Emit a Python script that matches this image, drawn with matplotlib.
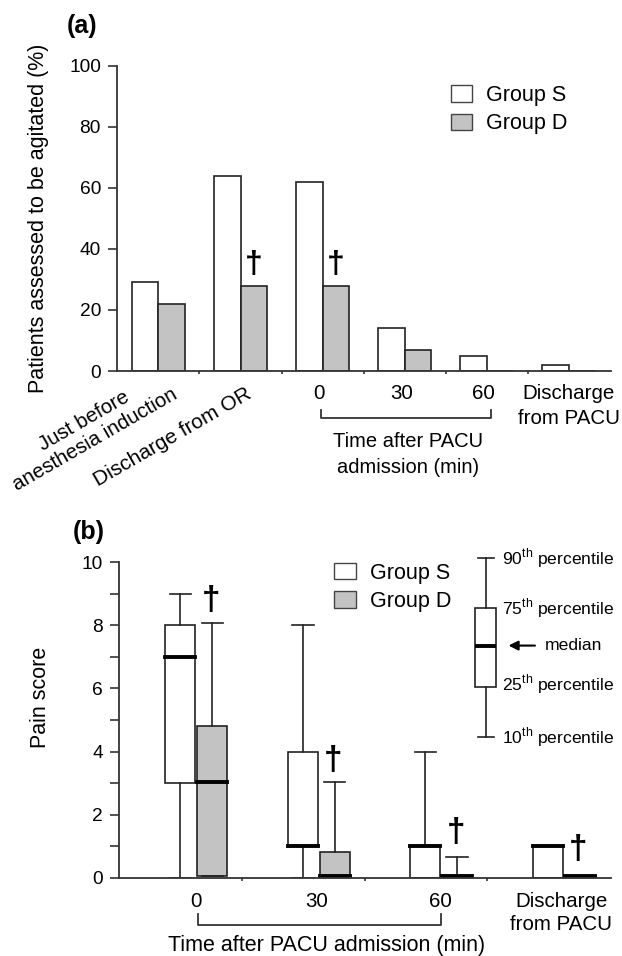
import matplotlib
matplotlib.use('Agg')
import matplotlib.pyplot as plt
from matplotlib.patches import Patch

plt.rcParams['font.family'] = ['Liberation Sans', 'DejaVu Sans']
plt.rcParams['mathtext.fontset'] = 'custom'
plt.rcParams['mathtext.rm'] = 'Liberation Sans'

# ---- panel (a): patients assessed to be agitated (%)
stages_a = ['Just before\nanesthesia induction', 'Discharge from OR',
            '0', '30', '60', 'Discharge\nfrom PACU']
agit_s = [29, 64, 62, 14, 5, 2]
agit_d = [22, 28, 28, 7, 0, 0]
dagger_a = [1, 2]

# ---- panel (b): pain score, (10th, 25th, median, 75th, 90th)
times_b = ['0', '30', '60', 'Discharge\nfrom PACU']
pain_s = [[0, 3, 7, 8, 9],
          [0, 1, 1, 4, 8],
          [0, 0, 1, 1, 4],
          [0, 0, 1, 1, 1]]
pain_d = [[0.05, 0.05, 3.05, 4.8, 8.07],
          [0.05, 0.05, 0.05, 0.8, 3.05],
          [0.05, 0.05, 0.05, 0.05, 0.65],
          [0.05, 0.05, 0.05, 0.05, 0.05]]
dagger_b_y = [8.8, 3.73, 1.43, 0.91]
key_vals = [4.47, 6.06, 7.36, 8.54, 10.13]
key_text = ['10$^{\\rm th}$ percentile', '25$^{\\rm th}$ percentile', 'median',
            '75$^{\\rm th}$ percentile', '90$^{\\rm th}$ percentile']

GRAY = '#c2c3c2'
EDGE = '#222222'
AX = '#333333'

fig = plt.figure(figsize=(6.22, 9.56), dpi=100)
ax1 = fig.add_axes([0.188, 0.6119, 0.795, 0.3194])
ax2 = fig.add_axes([0.1913, 0.0819, 0.7917, 0.3299])


def style_axes(ax):
    for s in ['top', 'right']:
        ax.spines[s].set_visible(False)
    for s in ['left', 'bottom']:
        ax.spines[s].set_linewidth(1.3)
        ax.spines[s].set_color(AX)
    ax.tick_params(axis='y', length=6.5, width=1.2, color=AX, pad=5, labelsize=13.8)
    ax.tick_params(axis='x', which='major', length=0, labelsize=14.8)
    ax.tick_params(axis='x', which='minor', length=2.5, width=1.2, color=AX)


# ================= (a)
x = list(range(len(stages_a)))
ax1.bar([i - 0.16 for i in x], agit_s, width=0.32, color='white', edgecolor=EDGE, linewidth=1.2)
ax1.bar([i + 0.16 for i in x], agit_d, width=0.32, color=GRAY, edgecolor=EDGE, linewidth=1.2)
ax1.set_xlim(-0.506, 5.52)
ax1.set_ylim(0, 100)
ax1.set_yticks(range(0, 101, 20))
style_axes(ax1)
ax1.set_xticks([1.96, 2.96, 3.96, 5.0])
ax1.set_xticklabels(stages_a[2:], linespacing=1.45)
ax1.tick_params(axis='x', which='major', pad=9)
ax1.set_xticks([0.5, 1.5, 2.5, 3.5, 4.5], minor=True)
trans1 = ax1.get_xaxis_transform()
ax1.text(0.23, -0.08, stages_a[0], transform=trans1, rotation=30, rotation_mode='anchor',
         ha='right', va='baseline', multialignment='center', fontsize=14.8, linespacing=1.2)
ax1.text(1.15, -0.085, stages_a[1], transform=trans1, rotation=30, rotation_mode='anchor',
         ha='right', va='baseline', fontsize=15)
for i in dagger_a:
    ax1.text(i + 0.16, 34.7, '\u2020', ha='center', va='center', fontsize=23, fontweight='bold')
ax1.plot([1.98, 1.98, 4.05, 4.05], [-0.128, -0.154, -0.154, -0.128], transform=trans1,
         color=AX, lw=1.3, clip_on=False)
ax1.text(3.04, -0.2, 'Time after PACU\nadmission (min)', transform=trans1, ha='center',
         va='top', fontsize=14.5, linespacing=1.45)
ax1.set_ylabel('Patients assessed to be agitated (%)', fontsize=15.5)
ax1.yaxis.set_label_coords(-0.138, 0.5)

handles = [Patch(facecolor='white', edgecolor='#444444', linewidth=1, label='Group S'),
           Patch(facecolor=GRAY, edgecolor='#444444', linewidth=1, label='Group D')]
leg_kw = dict(frameon=False, fontsize=15.5, handlelength=1.02, handleheight=0.8,
              handletextpad=0.64, labelspacing=0.35, borderpad=0, borderaxespad=0,
              loc='upper left')
ax1.legend(handles=handles, bbox_to_anchor=(0.6746, 0.937), **leg_kw)

# ================= (b)
def stats(v):
    return dict(whislo=v[0], q1=v[1], med=v[2], q3=v[3], whishi=v[4], fliers=[])


box_kw = dict(widths=0.245, capwidths=0.175, patch_artist=True, showfliers=False,
              manage_ticks=False,
              whiskerprops=dict(color=EDGE, linewidth=1.2),
              capprops=dict(color=EDGE, linewidth=1.2),
              medianprops=dict(color='black', linewidth=2.8, solid_capstyle='projecting'))
pos = list(range(len(times_b)))
ax2.bxp([stats(v) for v in pain_s], positions=[p - 0.13 for p in pos],
        boxprops=dict(facecolor='white', edgecolor=EDGE, linewidth=1.2), **box_kw)
ax2.bxp([stats(v) for v in pain_d], positions=[p + 0.13 for p in pos],
        boxprops=dict(facecolor=GRAY, edgecolor=EDGE, linewidth=1.2), **box_kw)

key = ax2.bxp([stats(key_vals)], positions=[2.364], widths=0.171, capwidths=0.13,
              patch_artist=True, showfliers=False, manage_ticks=False,
              boxprops=dict(facecolor='white', edgecolor=EDGE, linewidth=1.2),
              whiskerprops=dict(color=EDGE, linewidth=1.2),
              capprops=dict(color=EDGE, linewidth=1.2),
              medianprops=dict(color='black', linewidth=2.8))
for arts in key.values():
    for a in arts:
        a.set_clip_on(False)
key_y = [4.47, 6.13, 7.36, 8.56, 10.13]
for yv, t in zip(key_y, key_text):
    xx = 2.845 if t == 'median' else 2.5
    ax2.text(xx, yv, t, ha='left', va='center', fontsize=12.6)
ax2.annotate('', xy=(2.527, 7.36), xytext=(2.788, 7.36),
             arrowprops=dict(arrowstyle='-|>', color='black', lw=1.5, mutation_scale=14))

ax2.set_xlim(-0.632, 3.39)
ax2.set_ylim(0, 10)
ax2.set_yticks(range(0, 11))
ax2.set_yticklabels([str(v) if v % 2 == 0 else '' for v in range(0, 11)])
style_axes(ax2)
ax2.set_xticks([0, 0.98, 1.99, 2.98])
ax2.set_xticklabels(times_b, linespacing=1.3)
ax2.tick_params(axis='x', which='major', pad=10)
ax2.set_xticks([0.376, 1.376, 2.376], minor=True)
for p, yv in zip(pos, dagger_b_y):
    ax2.text(p + 0.12, yv, '\u2020', ha='center', va='center', fontsize=24, fontweight='bold')
trans2 = ax2.get_xaxis_transform()
ax2.plot([0.016, 0.016, 2.0, 2.0], [-0.115, -0.150, -0.150, -0.115], transform=trans2,
         color=AX, lw=1.3, clip_on=False)
ax2.text(1.066, -0.183, 'Time after PACU admission (min)', transform=trans2,
         ha='center', va='top', fontsize=15.5)
ax2.set_ylabel('Pain score', fontsize=15.5)
ax2.yaxis.set_label_coords(-0.138, 0.573)
ax2.legend(handles=handles, bbox_to_anchor=(0.4364, 0.999), **leg_kw)

fig.text(67 / 622, 1 - 14 / 956, '(a)', fontsize=18, fontweight='bold', va='top')
fig.text(73 / 622, 1 - 520 / 956, '(b)', fontsize=18, fontweight='bold', va='top')

fig.savefig('out.png', dpi=100)
